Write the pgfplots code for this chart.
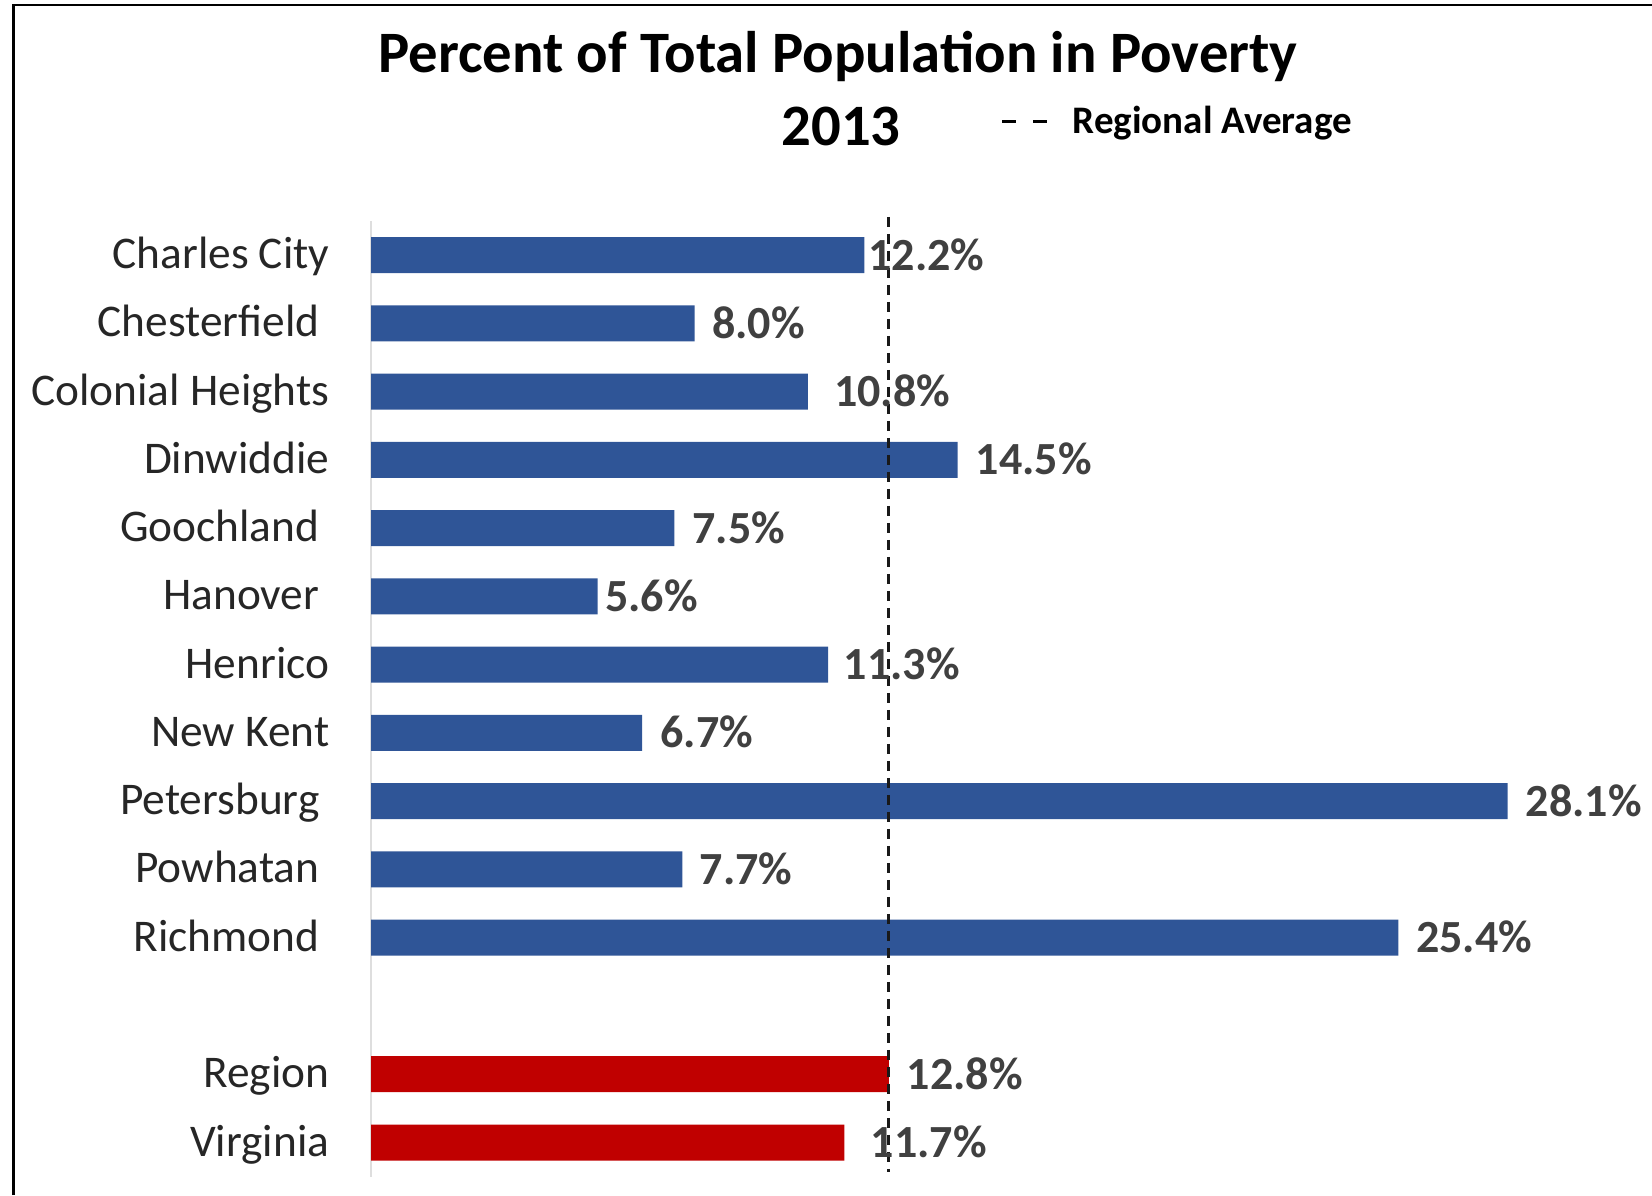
\documentclass[border=0pt]{standalone}
\usepackage{fontspec}
\setmainfont{Carlito}
\usepackage{pgfplots}
\pgfplotsset{compat=1.18}
\usepackage{pgfplotstable}

\definecolor{barblue}{HTML}{2F5597}
\definecolor{barred}{HTML}{C00000}
\definecolor{labelgray}{HTML}{404040}

% y = row (0 at top), x = percent, dx = label shift in mm
\pgfplotstableread{
y  x     dx
0  12.2  0.32
1  8.0   1.70
2  10.8  2.55
3  14.5  1.75
4  7.5   1.75
5  5.6   0.68
6  11.3  1.50
7  6.7   1.78
8  28.1  1.75
9  7.7   1.65
10 25.4  1.70
}\countytable

\pgfplotstableread{
y  x     dx
12 12.8  1.75
13 11.7  2.60
}\statetable

\pgfplotsset{
  pctbars/.style={
    xbar, bar shift=0pt, bar width=3.6mm, draw=none,
    point meta=x,
    visualization depends on={\thisrow{dx} \as \lblshift},
    nodes near coords={\pgfmathprintnumber[assume math mode=true,fixed,fixed zerofill,precision=1]{\pgfplotspointmeta}\%},
    every node near coord/.append style={anchor=base west, inner sep=0pt,
      xshift=\lblshift mm, yshift=-1.5mm,
      font=\bfseries\fontsize{13.1}{15}\selectfont, text=labelgray},
  },
}

\begin{document}
\begin{tikzpicture}
\useasboundingbox (0,0) rectangle (165.2mm,-119.5mm);

% chart frame (cropped at right and bottom)
\draw[line width=0.28mm, line join=miter] (1.33mm,-119.5mm) -- (1.33mm,-0.5mm) -- (165.2mm,-0.5mm);

% title
\node[anchor=base, inner sep=0pt, font=\bfseries\fontsize{16.7}{20}\selectfont] at (83.8mm,-7.24mm) {Percent of Total Population in Poverty};
\node[anchor=base, inner sep=0pt, font=\bfseries\fontsize{16.7}{20}\selectfont] at (84.1mm,-14.5mm) {2013};

% legend key for the dashed line
\draw[line width=0.3mm, dash pattern=on 1.4mm off 1.7mm] (100.2mm,-12.17mm) -- (104.8mm,-12.17mm);
\node[anchor=base west, inner sep=0pt, font=\bfseries\fontsize{11.1}{13}\selectfont] at (107.2mm,-13.33mm) {Regional Average};

\begin{axis}[
  at={(37.1mm,-117.66mm)}, anchor=south west,
  scale only axis,
  width=121.35mm, height=95.56mm,
  xmin=0, xmax=30,
  ymin=-0.5, ymax=13.5,
  y dir=reverse,
  clip=false,
  axis x line=none,
  axis y line*=left,
  y axis line style={draw=black!13, line width=0.2mm},
  ytick={0,1,2,3,4,5,6,7,8,9,10,12,13},
  yticklabels={Charles City, Chesterfield\kern1mm, Colonial Heights, Dinwiddie,
    Goochland\kern1mm, Hanover\kern1mm, Henrico, New Kent, Petersburg\kern1mm,
    Powhatan\kern1mm, Richmond\kern1mm, Region, Virginia},
  major tick length=0pt,
  yticklabel style={anchor=base east, inner sep=0pt, xshift=-4.1mm, yshift=-1.35mm,
    font=\fontsize{12.9}{15}\selectfont, text=black!85},
]

\addplot[pctbars, fill=barblue] table[x=x, y=y] {\countytable};

\addplot[pctbars, fill=barred] table[x=x, y=y] {\statetable};

% regional average
\addplot[black!90, line width=0.27mm, dash pattern=on 1.0mm off 0.7mm]
  coordinates {(12.8,-0.56) (12.8,13.43)};

\end{axis}
\end{tikzpicture}
\end{document}
